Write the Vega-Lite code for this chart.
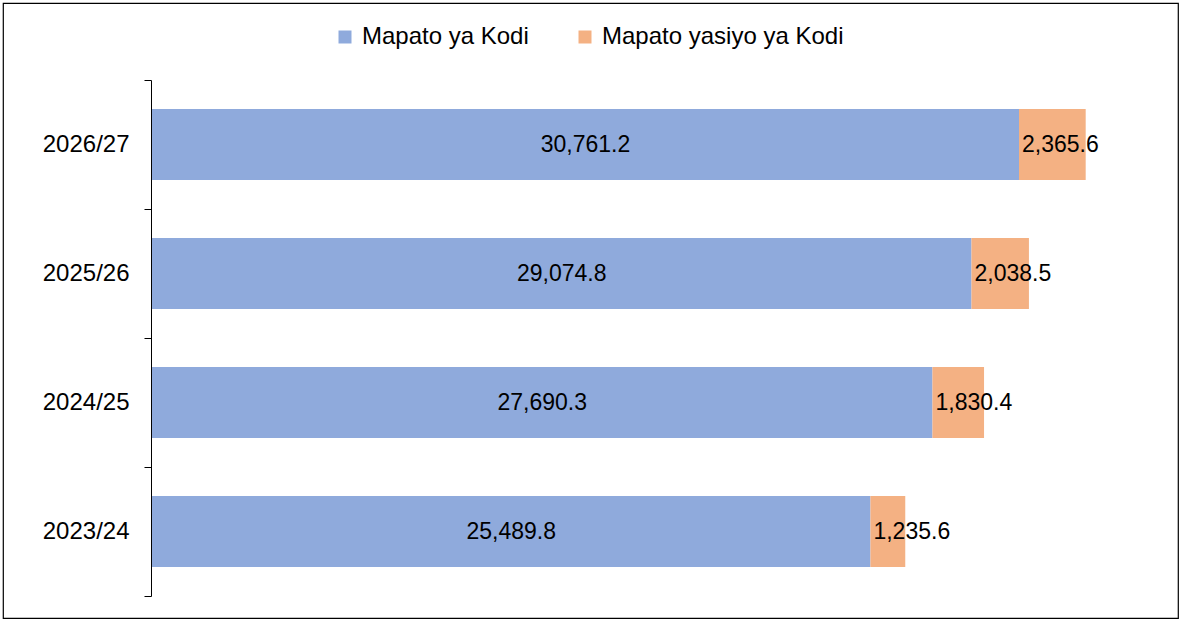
{
  "$schema": "https://vega.github.io/schema/vega-lite/v6.json",
  "width": 1175,
  "height": 615,
  "autosize": {"type": "none"},
  "padding": {"left": 3, "top": 3, "right": 4, "bottom": 3},
  "background": "white",
  "config": {
    "font": "Liberation Sans",
    "view": {"stroke": "#000000", "strokeWidth": 1.2}
  },
  "data": {
    "values": [
      {"year": "2026/27", "type": "Mapato ya Kodi", "value": 30761.2},
      {"year": "2026/27", "type": "Mapato yasiyo ya Kodi", "value": 2365.6},
      {"year": "2025/26", "type": "Mapato ya Kodi", "value": 29074.8},
      {"year": "2025/26", "type": "Mapato yasiyo ya Kodi", "value": 2038.5},
      {"year": "2024/25", "type": "Mapato ya Kodi", "value": 27690.3},
      {"year": "2024/25", "type": "Mapato yasiyo ya Kodi", "value": 1830.4},
      {"year": "2023/24", "type": "Mapato ya Kodi", "value": 25489.8},
      {"year": "2023/24", "type": "Mapato yasiyo ya Kodi", "value": 1235.6}
    ]
  },
  "encoding": {
    "y": {
      "field": "year",
      "type": "nominal",
      "sort": "descending",
      "scale": {"range": [77, 593], "paddingInner": 0, "paddingOuter": 0},
      "axis": {
        "title": null,
        "offset": -148,
        "labelFontSize": 24,
        "labelColor": "#000000",
        "labelPadding": 15,
        "tickSize": 7,
        "tickColor": "#000000",
        "domainColor": "#000000",
        "tickBand": "extent"
      }
    }
  },
  "layer": [
    {
      "mark": {"type": "bar", "height": {"band": 0.55}},
      "encoding": {
        "x": {
          "field": "value",
          "type": "quantitative",
          "stack": "zero",
          "scale": {"domain": [-5286, 36402], "nice": false, "zero": false},
          "axis": null
        },
        "color": {
          "field": "type",
          "type": "nominal",
          "scale": {"domain": ["Mapato ya Kodi", "Mapato yasiyo ya Kodi"], "range": ["#8FAADC", "#F4B183"]},
          "legend": {
            "title": null,
            "orient": "none",
            "direction": "horizontal",
            "legendX": 330,
            "legendY": 22,
            "symbolType": "square",
            "symbolSize": 169,
            "symbolStrokeWidth": 0,
            "symbolOpacity": 1,
            "labelFontSize": 24,
            "labelColor": "#000000",
            "labelOffset": 5,
            "labelLimit": 0,
            "columnPadding": 44
          }
        },
        "order": {"field": "type", "sort": "ascending"}
      }
    },
    {
      "mark": {"type": "text", "align": "center", "baseline": "middle", "fontSize": 23, "color": "#000000"},
      "encoding": {
        "x": {"field": "value", "type": "quantitative", "stack": "zero", "bandPosition": 0.5},
        "detail": {"field": "type"},
        "order": {"field": "type", "sort": "ascending"},
        "text": {
          "condition": {"test": "datum.type === 'Mapato ya Kodi'", "field": "value", "type": "quantitative", "format": ",.1f"},
          "value": ""
        }
      }
    },
    {
      "mark": {"type": "text", "align": "left", "baseline": "middle", "fontSize": 23, "color": "#000000", "dx": 3},
      "encoding": {
        "x": {"field": "value", "type": "quantitative", "stack": "zero", "bandPosition": 0},
        "detail": {"field": "type"},
        "order": {"field": "type", "sort": "ascending"},
        "text": {
          "condition": {"test": "datum.type === 'Mapato yasiyo ya Kodi'", "field": "value", "type": "quantitative", "format": ",.1f"},
          "value": ""
        }
      }
    }
  ]
}
